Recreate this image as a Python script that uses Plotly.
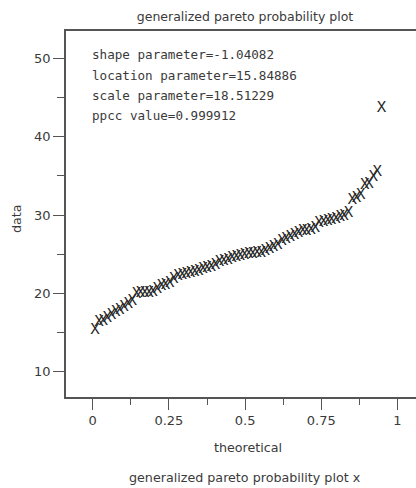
import plotly.graph_objects as go

# Generalized Pareto probability plot: theoretical quantiles vs. ordered data
theoretical = [
    0.0075, 0.021, 0.035, 0.048, 0.062, 0.076, 0.089, 0.103, 0.117, 0.130,
    0.144, 0.157, 0.171, 0.185, 0.198, 0.212, 0.226, 0.239, 0.253, 0.266,
    0.280, 0.294, 0.307, 0.321, 0.335, 0.348, 0.362, 0.375, 0.389, 0.403,
    0.416, 0.430, 0.444, 0.457, 0.471, 0.484, 0.498, 0.512, 0.525, 0.539,
    0.553, 0.566, 0.580, 0.593, 0.607, 0.621, 0.634, 0.648, 0.662, 0.675,
    0.689, 0.702, 0.716, 0.730, 0.743, 0.757, 0.771, 0.784, 0.798, 0.812,
    0.825, 0.839, 0.852, 0.866, 0.880, 0.893, 0.907, 0.921, 0.934, 0.948,
]
data = [
    15.3, 16.3, 16.5, 16.9, 17.2, 17.6, 17.9, 18.2, 18.7, 19.0,
    19.9, 20.0, 20.0, 20.1, 20.2, 20.6, 20.9, 21.1, 21.3, 21.8,
    22.2, 22.4, 22.5, 22.6, 22.7, 22.8, 23.1, 23.3, 23.4, 23.6,
    24.0, 24.1, 24.3, 24.5, 24.6, 24.8, 24.9, 25.0, 25.0, 25.1,
    25.2, 25.4, 25.7, 25.9, 26.2, 26.7, 27.0, 27.2, 27.5, 27.7,
    27.9, 28.0, 28.1, 28.4, 29.0, 29.1, 29.2, 29.4, 29.5, 29.7,
    29.9, 30.3, 31.9, 32.2, 32.5, 33.8, 34.0, 34.9, 35.5, 43.6,
]

fit_lines = [
    "shape parameter=-1.04082",
    "location parameter=15.84886",
    "scale parameter=18.51229",
    "ppcc value=0.999912",
]

x_ticks = [0, 0.25, 0.5, 0.75, 1]
x_tick_text = ["0", "0.25", "0.5", "0.75", "1"]
y_ticks = [10, 20, 30, 40, 50]

W, H = 416, 488
M_L, M_R, M_T, M_B = 66, 0, 31, 91
PLOT_W = W - M_L - M_R
PLOT_H = H - M_T - M_B

INK = "#3a3a3a"
AXIS = "#555555"
FONT = "DejaVu Sans"
MONO = "DejaVu Sans Mono"


def paper_x(px):
    """Convert a pixel column to paper x."""
    return (px - M_L) / PLOT_W


def paper_y(py):
    """Convert a pixel row (from the top of the page) to paper y."""
    return (H - M_B - py) / PLOT_H


def label(text, px, py, size=12.7, family=FONT, angle=0):
    fig.add_annotation(
        x=paper_x(px), xref="paper", xanchor="center",
        y=paper_y(py), yref="paper", yanchor="middle",
        text=text, showarrow=False, textangle=angle,
        font=dict(family=family, size=size, color=INK),
    )


fig = go.Figure()
fig.add_trace(go.Scatter(
    x=theoretical, y=data, mode="text", text=["X"] * len(data),
    textposition="middle center",
    textfont=dict(family="Liberation Mono", size=16, color="#262626"),
    hoverinfo="x+y", showlegend=False,
))

# fit summary in the upper-left corner of the plot
for i, line in enumerate(fit_lines):
    fig.add_annotation(
        x=0.0, xref="x", xanchor="left", xshift=-3,
        y=paper_y(55 + 20 * i), yref="paper", yanchor="middle",
        text=line, showarrow=False,
        font=dict(family=MONO, size=12.6, color=INK),
    )

# axis titles and footer caption
label("theoretical", 248, 447)
label("generalized pareto probability plot x", 245, 478)
label("data", 16, 219, angle=-90)

fig.update_layout(
    width=W, height=H,
    margin=dict(l=M_L, r=M_R, t=M_T, b=M_B),
    paper_bgcolor="white", plot_bgcolor="white",
    title=dict(text="generalized pareto probability plot",
               x=245 / W, xanchor="center", y=1 - 17 / H, yanchor="middle",
               font=dict(family=FONT, size=12.5, color=INK)),
    xaxis=dict(
        range=[-0.0876, 1.0607], tickvals=x_ticks, ticktext=x_tick_text,
        ticks="outside", ticklen=11, tickwidth=1, tickcolor=AXIS,
        minor=dict(tickvals=[0.125, 0.375, 0.625, 0.875], ticks="outside",
                   ticklen=6, tickcolor=AXIS),
        showline=True, linecolor=AXIS, linewidth=1.5, mirror=True,
        showgrid=False, zeroline=False,
        tickfont=dict(family=FONT, size=13, color=INK),
    ),
    yaxis=dict(
        range=[6.77, 53.49], tickvals=y_ticks,
        ticks="outside", ticklen=11, tickwidth=1, tickcolor=AXIS,
        minor=dict(tickvals=[15, 25, 35, 45], ticks="outside",
                   ticklen=7, tickcolor=AXIS),
        showline=True, linecolor=AXIS, linewidth=1.5, mirror=False,
        showgrid=False, zeroline=False,
        tickfont=dict(family=FONT, size=13, color=INK),
    ),
)

fig.write_html("out.html")
